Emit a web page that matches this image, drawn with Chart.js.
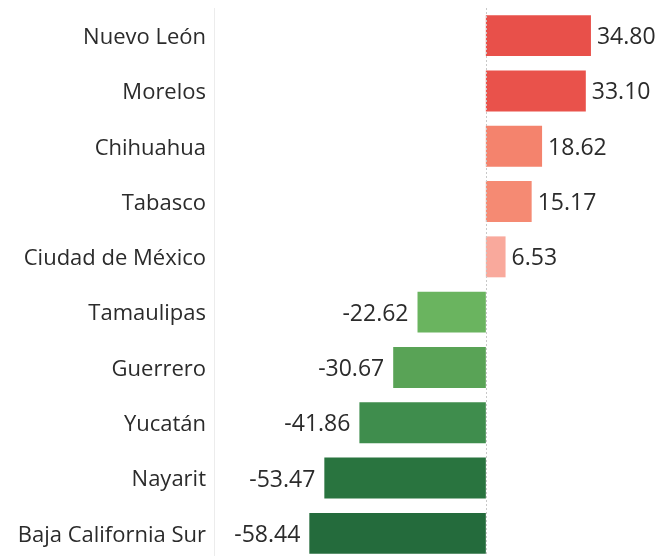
<!DOCTYPE html>
<html>
<head>
<meta charset="utf-8">
<script src="https://cdn.jsdelivr.net/npm/chart.js@4"></script>
<style>
  html, body { margin: 0; padding: 0; background: #fff; overflow: hidden; }
  canvas { display: block; }
</style>
</head>
<body>
<canvas id="chart" width="658" height="561"></canvas>
<script>
var states = ['Nuevo León', 'Morelos', 'Chihuahua', 'Tabasco', 'Ciudad de México',
              'Tamaulipas', 'Guerrero', 'Yucatán', 'Nayarit', 'Baja California Sur'];
var values = [34.80, 33.10, 18.62, 15.17, 6.53, -22.62, -30.67, -41.86, -53.47, -58.44];
var barColors = ['#e8504a', '#e9524b', '#f4836d', '#f58a73', '#f9a99c',
                 '#6ab45f', '#59a356', '#3f8d4d', '#29743f', '#246b3c'];

// dotted zero line + value labels
var extras = {
  id: 'extras',
  afterDatasetsDraw: function(chart) {
    var c = chart.ctx, x = chart.scales.x, area = chart.chartArea;
    var x0 = Math.round(x.getPixelForValue(0)) + 0.5;
    c.save();
    c.strokeStyle = '#c8c8c8';
    c.lineWidth = 1;
    c.setLineDash([2, 2]);
    c.beginPath();
    c.moveTo(x0, area.top);
    c.lineTo(x0, area.bottom);
    c.stroke();
    c.setLineDash([]);

    c.font = '23px "Open Sans"';
    c.fillStyle = '#2b2b2b';
    c.textBaseline = 'middle';
    chart.getDatasetMeta(0).data.forEach(function(bar, i) {
      var v = values[i];
      if (v >= 0) {
        c.textAlign = 'left';
        c.fillText(v.toFixed(2), bar.x + 6, bar.y + 2);
      } else {
        c.textAlign = 'right';
        c.fillText(v.toFixed(2), bar.x - 9, bar.y + 2);
      }
    });
    c.restore();
  }
};

var ctx = document.getElementById('chart').getContext('2d');
var chart = new Chart(ctx, {
  type: 'bar',
  data: {
    labels: states,
    datasets: [{
      data: values,
      backgroundColor: barColors,
      borderWidth: 0,
      barPercentage: 0.74,
      categoryPercentage: 1
    }]
  },
  options: {
    indexAxis: 'y',
    responsive: false,
    animation: false,
    layout: { padding: { top: 8, bottom: 0, left: 0, right: 0 } },
    plugins: {
      legend: { display: false },
      tooltip: { enabled: false }
    },
    scales: {
      x: {
        min: -90,
        max: 57,
        display: false
      },
      y: {
        grid: { display: false, drawTicks: false },
        border: { display: true, color: '#ececec' },
        ticks: {
          font: { family: 'Open Sans', size: 22 },
          color: '#2b2b2b',
          padding: 8,
          labelOffset: 2
        },
        afterFit: function(scale) {
          scale.width = 214;
          scale.paddingTop = 0;
          scale.paddingBottom = 0;
        }
      }
    }
  },
  plugins: [extras]
});
</script>
</body>
</html>
